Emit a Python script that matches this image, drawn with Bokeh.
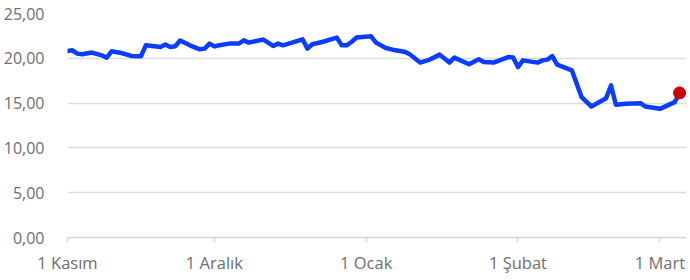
import pandas as pd
from bokeh.plotting import figure
from bokeh.models import FixedTicker, CustomJSTickFormatter, Range1d
from bokeh.embed import file_html
from bokeh.resources import INLINE

dates = ["2023-11-01", "2023-11-02", "2023-11-03", "2023-11-04", "2023-11-06", "2023-11-08",
         "2023-11-09", "2023-11-10", "2023-11-12", "2023-11-14", "2023-11-16", "2023-11-17",
         "2023-11-20", "2023-11-21", "2023-11-22", "2023-11-23", "2023-11-24", "2023-11-26",
         "2023-11-28", "2023-11-29", "2023-11-30", "2023-12-01", "2023-12-02", "2023-12-04",
         "2023-12-06", "2023-12-07", "2023-12-08", "2023-12-11", "2023-12-13", "2023-12-14",
         "2023-12-15", "2023-12-19", "2023-12-20", "2023-12-21", "2023-12-23", "2023-12-26",
         "2023-12-27", "2023-12-28", "2023-12-29", "2023-12-30", "2024-01-02", "2024-01-03",
         "2024-01-05", "2024-01-07", "2024-01-09", "2024-01-10", "2024-01-12", "2024-01-14",
         "2024-01-16", "2024-01-18", "2024-01-19", "2024-01-22", "2024-01-24", "2024-01-25",
         "2024-01-27", "2024-01-30", "2024-01-31", "2024-02-01", "2024-02-02", "2024-02-05",
         "2024-02-06", "2024-02-07", "2024-02-08", "2024-02-09", "2024-02-12", "2024-02-14",
         "2024-02-16", "2024-02-19", "2024-02-20", "2024-02-21", "2024-02-23", "2024-02-26",
         "2024-02-27", "2024-03-01", "2024-03-04", "2024-03-05"]
values = [20.81, 20.89, 20.52, 20.45, 20.64, 20.33,
          20.07, 20.78, 20.59, 20.26, 20.23, 21.45,
          21.26, 21.53, 21.26, 21.34, 21.98, 21.45,
          21.00, 21.08, 21.64, 21.33, 21.45, 21.64,
          21.64, 22.00, 21.75, 22.09, 21.38, 21.64,
          21.45, 22.12, 21.08, 21.57, 21.82, 22.31,
          21.45, 21.45, 21.82, 22.31, 22.45, 21.75,
          21.15, 20.89, 20.70, 20.41, 19.52, 19.86,
          20.41, 19.52, 20.08, 19.33, 19.89, 19.59,
          19.52, 20.14, 20.08, 19.02, 19.77, 19.52,
          19.77, 19.85, 20.25, 19.29, 18.65, 15.66,
          14.62, 15.55, 16.97, 14.81, 14.93, 14.99,
          14.62, 14.36, 15.11, 16.14]

tick_dates = ["2023-11-01", "2023-12-01", "2024-01-01", "2024-02-01", "2024-03-01"]
tick_labels = ["1 Kasım", "1 Aralık", "1 Ocak", "1 Şubat", "1 Mart"]
y_ticks = [0, 5, 10, 15, 20, 25]

x = pd.to_datetime(dates)
tick_ms = [pd.Timestamp(d).value / 1e6 for d in tick_dates]

p = figure(width=690, height=280, x_axis_type="datetime", output_backend="svg",
           toolbar_location=None,
           x_range=Range1d(pd.Timestamp("2023-11-01"), pd.Timestamp("2024-03-06 10:00")),
           y_range=Range1d(0, 25),
           min_border_left=67, min_border_right=4, min_border_top=13, min_border_bottom=43)
p.outline_line_color = None
p.background_fill_color = "white"
p.border_fill_color = "white"

p.line(x, values, line_color="#0a3dff", line_width=4.5, line_join="round", line_cap="round")
p.scatter(x[-1:], values[-1:], size=12, fill_color="#cc0000", line_color="#cc0000")

p.xgrid.grid_line_color = None
p.ygrid.grid_line_color = "#dcdcdc"
p.ygrid.grid_line_width = 1.5
p.ygrid.ticker = FixedTicker(ticks=y_ticks)

font = "Open Sans"
lab_col = "#6e6e6e"

p.yaxis.ticker = FixedTicker(ticks=y_ticks)
p.yaxis.formatter = CustomJSTickFormatter(code="return tick.toFixed(2).replace('.', ',');")
p.yaxis.axis_line_color = None
p.yaxis.major_tick_line_color = None
p.yaxis.minor_tick_line_color = None
p.yaxis.major_label_text_font = font
p.yaxis.major_label_text_font_size = "16px"
p.yaxis.major_label_text_color = lab_col
p.yaxis.major_label_standoff = 17

p.xaxis.ticker = FixedTicker(ticks=tick_ms)
p.xaxis.major_label_overrides = {t: l for t, l in zip(tick_ms, tick_labels)}
p.xaxis.axis_line_color = "#d6d6d6"
p.xaxis.axis_line_width = 1.5
p.xaxis.major_tick_line_color = "#d6d6d6"
p.xaxis.major_tick_line_width = 1.5
p.xaxis.major_tick_out = 5
p.xaxis.major_tick_in = 0
p.xaxis.minor_tick_line_color = None
p.xaxis.major_label_text_font = font
p.xaxis.major_label_text_font_size = "16.5px"
p.xaxis.major_label_text_color = lab_col
p.xaxis.major_label_standoff = 8

open("out.html", "w").write(file_html(p, INLINE))
